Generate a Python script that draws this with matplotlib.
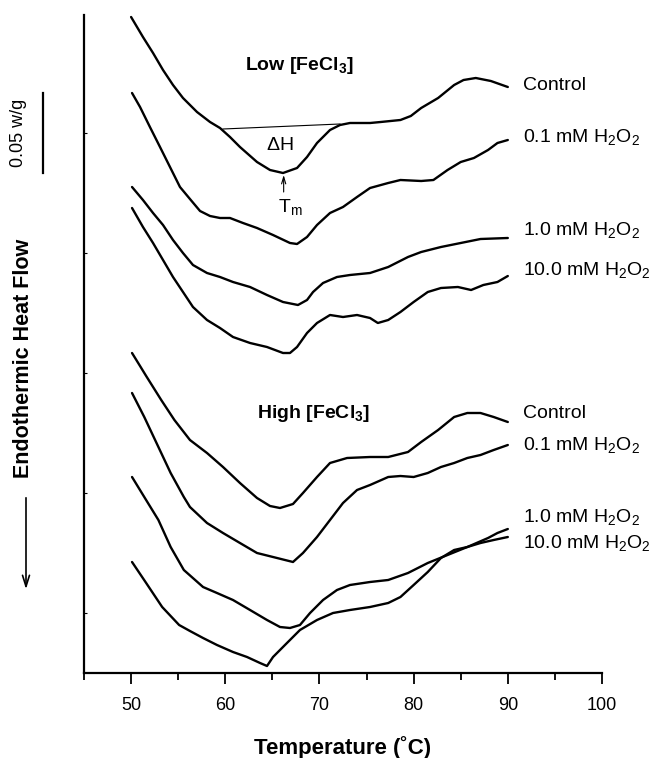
import numpy as np
import matplotlib
matplotlib.use("Agg")
import matplotlib.pyplot as plt

plt.rcParams['font.family'] = ['Liberation Sans', 'DejaVu Sans']
plt.rcParams['mathtext.fontset'] = 'custom'
plt.rcParams['mathtext.rm'] = 'Liberation Sans'
plt.rcParams['mathtext.it'] = 'Liberation Sans:italic'
plt.rcParams['mathtext.bf'] = 'Liberation Sans:bold'
plt.rcParams['mathtext.default'] = 'regular'

# heat flow in arbitrary units (0.05 W/g = 80 units), temperature in C
low_ctrl_t = [50.0, 51.26, 52.33, 53.39, 54.45, 55.51, 57.0, 58.38, 59.44, 60.5, 61.56, 63.37,
              64.75, 66.13, 67.62, 68.68, 69.74, 71.12, 72.18, 73.24, 75.37, 76.5, 78.6, 79.7,
              80.8, 82.6, 84.3, 85.3, 86.6, 88.2, 90.0]
low_ctrl = [656, 636, 620, 603, 588, 575, 561, 551, 545, 536, 526, 511,
            503, 500, 505, 516, 530, 543, 548, 550, 550, 551, 553, 557,
            565, 575, 588, 593, 595, 592, 586]

low_01_t = [50.1, 50.95, 52.0, 53.07, 54.13, 55.19, 56.25, 57.32, 58.38, 59.44, 60.5, 61.88,
            63.37, 65.07, 66.87, 67.62, 68.68, 69.74, 71.12, 72.5, 73.99, 75.37, 77.3, 78.6,
            80.8, 82.1, 83.6, 85.0, 86.4, 87.9, 88.9, 90.0]
low_01 = [580, 566, 546, 526, 506, 486, 474, 462, 457, 455, 455, 450,
          445, 438, 430, 429, 436, 448, 460, 466, 476, 485, 490, 493,
          492, 493, 503, 511, 515, 523, 530, 533]

low_1_t = [50.1, 51.26, 52.33, 53.39, 54.45, 55.51, 56.57, 58.06, 59.44, 60.82, 62.63, 64.43,
           66.13, 67.72, 68.68, 69.32, 70.38, 71.86, 73.24, 75.37, 77.3, 79.4, 80.8, 82.9,
           85.0, 87.1, 90.0]
low_1 = [486, 473, 460, 448, 433, 420, 408, 400, 396, 391, 386, 378,
         371, 368, 373, 381, 390, 396, 398, 400, 406, 416, 421, 426,
         430, 434, 435]

low_10_t = [50.1, 51.26, 52.33, 53.39, 54.45, 55.51, 56.57, 58.06, 59.44, 60.82, 62.63, 64.43,
            66.13, 66.87, 67.62, 68.68, 69.74, 71.12, 72.5, 73.99, 75.37, 76.2, 77.3, 78.6,
            80.0, 81.5, 82.9, 84.7, 86.1, 87.4, 88.9, 90.0]
low_10 = [465, 446, 430, 413, 396, 381, 366, 353, 345, 336, 330, 326,
          320, 320, 326, 340, 350, 358, 356, 358, 355, 350, 353, 361,
          371, 381, 385, 386, 383, 388, 391, 397]

high_ctrl_t = [50.1, 50.95, 51.6, 53.2, 54.6, 56.25, 58.06, 59.76, 61.56, 63.37, 64.75, 65.81,
               67.19, 68.25, 69.74, 71.12, 72.93, 75.37, 77.3, 79.4, 80.8, 82.6, 84.3, 85.7,
               87.1, 88.5, 90.0]
high_ctrl = [320, 307, 297, 273, 253, 233, 220, 206, 190, 175, 167, 165,
             169, 180, 196, 210, 215, 216, 216, 221, 231, 243, 256, 260,
             260, 256, 251]

high_01_t = [50.1, 51.4, 52.9, 54.2, 55.6, 56.25, 58.06, 59.76, 61.56, 63.37, 65.07, 67.19,
             68.25, 69.74, 71.12, 72.5, 73.99, 75.37, 77.3, 78.6, 80.0, 81.5, 82.9, 84.3,
             85.7, 87.1, 88.5, 90.0]
high_01 = [280, 256, 226, 200, 176, 166, 150, 140, 130, 120, 116, 111,
           120, 136, 153, 170, 183, 188, 196, 197, 196, 200, 206, 210,
           215, 218, 223, 228]

high_1_t = [50.1, 51.4, 52.9, 54.2, 55.6, 57.64, 59.12, 60.82, 62.63, 64.43, 65.81, 66.87,
            67.93, 69.0, 70.38, 71.86, 73.24, 75.37, 77.3, 79.4, 81.5, 83.6, 85.7, 87.9,
            88.9, 90.0]
high_1 = [196, 176, 153, 126, 103, 86, 80, 73, 63, 53, 46, 45,
          48, 60, 73, 83, 88, 91, 93, 100, 110, 118, 126, 135,
          140, 144]

high_10_t = [50.1, 51.6, 53.3, 55.1, 56.25, 57.64, 59.12, 60.82, 62.31, 63.69, 64.43, 65.07,
             66.55, 67.93, 69.74, 71.44, 73.24, 75.37, 77.3, 78.6, 80.0, 81.5, 82.9, 84.3,
             85.7, 87.1, 88.5, 90.0]
high_10 = [111, 90, 66, 48, 42, 35, 28, 21, 16, 10, 7, 16,
           30, 43, 53, 60, 63, 66, 70, 76, 88, 101, 115, 123,
           126, 130, 133, 136]

curve_labels = ['Control', '0.1 mM H$_2$O$_2$', '1.0 mM H$_2$O$_2$', '10.0 mM H$_2$O$_2$'] * 2
label_y = [588, 536, 443, 403, 260, 228, 156, 130]

# enthalpy baseline under the control peak
base_t = [59.76, 72.18]
base_v = [544, 549]
tm_temp = 66.2

fig = plt.figure(figsize=(6.51, 7.58), dpi=100)
ax = fig.add_axes([84 / 651, 85 / 758, 518 / 651, 658 / 758])

curves = [(low_ctrl_t, low_ctrl), (low_01_t, low_01), (low_1_t, low_1), (low_10_t, low_10),
          (high_ctrl_t, high_ctrl), (high_01_t, high_01), (high_1_t, high_1), (high_10_t, high_10)]
for t, v in curves:
    ax.plot(t, v, color='black', lw=1.7, solid_joinstyle='round', solid_capstyle='round')

for lab, y in zip(curve_labels, label_y):
    ax.text(91.6, y, lab, fontsize=14, va='center', ha='left')

ax.plot(base_t, base_v, color='black', lw=0.8)
ax.text(65.8, 528, '$\\Delta$H', fontsize=14, ha='center', va='center')
ax.annotate('', xy=(tm_temp, 498), xytext=(tm_temp, 481),
            arrowprops=dict(arrowstyle='->,head_length=0.5,head_width=0.15', lw=0.8,
                            color='black', shrinkA=0, shrinkB=0))
ax.text(66.9, 466, 'T$_m$', fontsize=14, ha='center', va='center')

ax.text(62.1, 608, 'Low [FeCl$_\\mathbf{3}$]', fontsize=14, fontweight='bold', va='center', ha='left')
ax.text(63.4, 260, 'High [FeCl$_\\mathbf{3}$]', fontsize=14, fontweight='bold', va='center', ha='left')

# scale bar
ax.plot([40.65, 40.65], [500, 580], color='black', lw=1.6, clip_on=False)
ax.text(38.0, 540, '0.05 w/g', fontsize=13, rotation=90, ha='center', va='center')

ax.set_xlim(45, 100)
ax.set_ylim(0, 658)
ax.spines['top'].set_visible(False)
ax.spines['right'].set_visible(False)
ax.spines['left'].set_linewidth(1.6)
ax.spines['bottom'].set_linewidth(1.6)
ax.set_xticks([50, 60, 70, 80, 90, 100])
ax.set_xticks([45, 55, 65, 75, 85, 95], minor=True)
ax.tick_params(axis='x', which='major', direction='out', length=8, width=1.3,
               labelsize=13, pad=9)
ax.tick_params(axis='x', which='minor', direction='out', length=5, width=1.3)
ax.set_yticks([60, 180, 300, 420, 540])
ax.tick_params(axis='y', direction='in', length=2, width=0.8, labelleft=False)

ax.set_xlabel('Temperature (˚C)', fontsize=16, fontweight='bold', labelpad=16)

fig.text(24 / 651, 1 - 358 / 758, 'Endothermic Heat Flow', rotation=90, fontsize=15.5,
         fontweight='bold', ha='center', va='center')
fig.patches.append(matplotlib.patches.FancyArrowPatch(
    (26 / 651, 1 - 495 / 758), (26 / 651, 1 - 592 / 758), transform=fig.transFigure,
    arrowstyle='->,head_length=8,head_width=2.5', lw=1.2, color='black'))

fig.savefig('out.png', dpi=100)
